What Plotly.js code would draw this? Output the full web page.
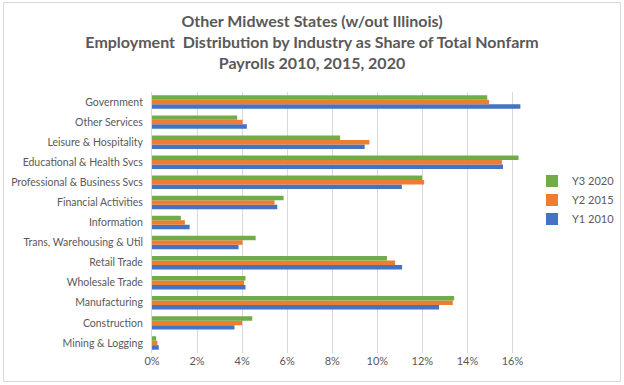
<!DOCTYPE html>
<html>
<head>
<meta charset="utf-8">
<script src="https://cdn.plot.ly/plotly-3.0.1.min.js"></script>
<style>
  html, body { margin: 0; padding: 0; background: #ffffff; }
  #frame { position: absolute; left: 3px; top: 2px; width: 616px; height: 378px; border: 1px solid #d9d9d9; }
  #chart { position: absolute; left: 0; top: 0; width: 624px; height: 385px; }
</style>
</head>
<body>
<div id="frame"></div>
<div id="chart"></div>
<script>
// Categories listed bottom to top
const categories = [
  "Mining & Logging", "Construction", "Manufacturing", "Wholesale Trade", "Retail Trade",
  "Trans, Warehousing & Util", "Information", "Financial Activities",
  "Professional & Business Svcs", "Educational & Health Svcs", "Leisure & Hospitality",
  "Other Services", "Government"
];
const y1_2010 = [0.0030, 0.0366, 0.1274, 0.0415, 0.1110, 0.0384, 0.0167, 0.0556, 0.1109, 0.1558, 0.0944, 0.0421, 0.1635];
const y2_2015 = [0.0024, 0.0400, 0.1335, 0.0409, 0.1079, 0.0402, 0.0146, 0.0544, 0.1208, 0.1553, 0.0965, 0.0402, 0.1496];
const y3_2020 = [0.0018, 0.0445, 0.1341, 0.0415, 0.1043, 0.0460, 0.0128, 0.0584, 0.1199, 0.1627, 0.0835, 0.0378, 0.1488];
const seriesNames = ["Y1 2010", "Y2 2015", "Y3 2020"];
const tickVals = [0, 0.02, 0.04, 0.06, 0.08, 0.10, 0.12, 0.14, 0.16];
const tickText = ["0%", "2%", "4%", "6%", "8%", "10%", "12%", "14%", "16%"];

const colors = ["#4472c4", "#ed7d31", "#70ad47"];
const data = [y1_2010, y2_2015, y3_2020].map((vals, i) => ({
  type: "bar",
  orientation: "h",
  name: seriesNames[i],
  y: categories,
  x: vals,
  marker: { color: colors[i] },
  hoverinfo: "none"
}));

const layout = {
  width: 624,
  height: 385,
  paper_bgcolor: "rgba(0,0,0,0)",
  plot_bgcolor: "rgba(0,0,0,0)",
  margin: { l: 152, r: 98, t: 92, b: 32, autoexpand: false },
  font: { family: "Lato, 'Open Sans', sans-serif", color: "#595959", size: 11 },
  title: {
    text: "<b>Other Midwest States (w/out Illinois)<br>Employment  Distribution by Industry as Share of Total Nonfarm<br>Payrolls 2010, 2015, 2020</b>",
    font: { family: "Lato, 'Open Sans', sans-serif", size: 16, color: "#595959" },
    x: 0.5, xanchor: "center",
    y: 0.929, yanchor: "top"
  },
  barmode: "group",
  bargap: 0.33,
  bargroupgap: 0,
  xaxis: {
    range: [0, 0.166],
    tickvals: tickVals,
    ticktext: tickText,
    showgrid: true,
    gridcolor: "#d9d9d9",
    gridwidth: 1,
    zeroline: false,
    showline: false,
    ticks: "",
    tickfont: { size: 11, color: "#595959" }
  },
  yaxis: {
    type: "category",
    showgrid: false,
    zeroline: false,
    showline: true,
    linecolor: "#d9d9d9",
    ticks: "",
    ticklabelstandoff: 6,
    tickfont: { size: 10.5, color: "#595959" }
  },
  legend: {
    x: 1.016, xanchor: "left",
    y: 0.715, yanchor: "top",
    traceorder: "reversed",
    font: { size: 11, color: "#595959" },
    itemwidth: 30,
    tracegroupgap: 0
  },
  showlegend: true
};

Plotly.newPlot("chart", data, layout, { displayModeBar: false, staticPlot: true });
</script>
</body>
</html>
